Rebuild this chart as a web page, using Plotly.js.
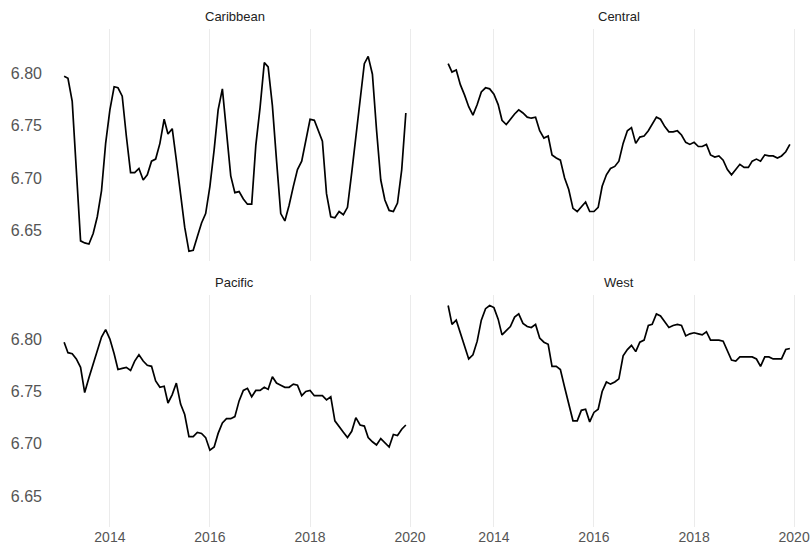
<!DOCTYPE html>
<html>
<head>
<meta charset="utf-8">
<script src="https://cdn.plot.ly/plotly-3.0.1.min.js"></script>
<style>html,body{margin:0;padding:0;background:#fff;}#chart{width:811px;height:548px;}</style>
</head>
<body>
<div id="chart"></div>
<script>
// Monthly observations, Feb 2013 – Dec 2019
const startYear = 2013, startMonth = 2, nMonths = 83;
const months = [];
for (let k = 0; k < nMonths; k++) {
  const m = startMonth - 1 + k;
  const y = startYear + Math.floor(m / 12);
  const mm = (m % 12) + 1;
  months.push(y + '-' + String(mm).padStart(2, '0') + '-01');
}

const regions = ['Caribbean', 'Central', 'Pacific', 'West'];

const caribbean = [
  6.797, 6.795, 6.773, 6.708, 6.640, 6.638, 6.637, 6.647, 6.663, 6.688,
  6.733, 6.765, 6.787, 6.786, 6.778, 6.740, 6.705, 6.705, 6.709, 6.698,
  6.703, 6.716, 6.718, 6.733, 6.756, 6.742, 6.747, 6.717, 6.685, 6.653,
  6.630, 6.631, 6.644, 6.657, 6.666, 6.692, 6.727, 6.765, 6.785, 6.746,
  6.702, 6.686, 6.687, 6.680, 6.675, 6.675, 6.731, 6.767, 6.810, 6.806,
  6.769, 6.717, 6.666, 6.659, 6.674, 6.692, 6.708, 6.716, 6.735, 6.756,
  6.755, 6.746, 6.735, 6.685, 6.663, 6.662, 6.668, 6.665, 6.672, 6.705,
  6.740, 6.778, 6.809, 6.816, 6.799, 6.746, 6.698, 6.679, 6.669, 6.668,
  6.676, 6.708, 6.762
];

const central = [
  6.809, 6.801, 6.803, 6.789, 6.779, 6.768, 6.760, 6.770, 6.782, 6.786,
  6.785, 6.780, 6.770, 6.755, 6.751, 6.756, 6.761, 6.765, 6.762, 6.758,
  6.757, 6.758, 6.745, 6.738, 6.740, 6.722, 6.719, 6.717, 6.700, 6.689,
  6.671, 6.668, 6.672, 6.677, 6.668, 6.668, 6.672, 6.692, 6.703, 6.709,
  6.711, 6.716, 6.733, 6.745, 6.748, 6.733, 6.739, 6.740, 6.745, 6.751,
  6.758, 6.756, 6.749, 6.744, 6.744, 6.745, 6.741, 6.734, 6.732, 6.734,
  6.730, 6.730, 6.732, 6.722, 6.720, 6.721, 6.717, 6.708, 6.703, 6.708,
  6.713, 6.710, 6.710, 6.716, 6.718, 6.716, 6.722, 6.721, 6.721, 6.719,
  6.721, 6.725, 6.732
];

const pacific = [
  6.797, 6.787, 6.786, 6.781, 6.773, 6.749, 6.763, 6.776, 6.790, 6.802,
  6.809, 6.800, 6.786, 6.771, 6.772, 6.773, 6.770, 6.779, 6.785, 6.779,
  6.775, 6.774, 6.760, 6.754, 6.755, 6.739, 6.747, 6.758, 6.738, 6.728,
  6.707, 6.707, 6.711, 6.710, 6.706, 6.694, 6.697, 6.710, 6.720, 6.724,
  6.724, 6.726, 6.741, 6.751, 6.753, 6.745, 6.751, 6.751, 6.754, 6.752,
  6.764, 6.758, 6.756, 6.754, 6.754, 6.757, 6.756, 6.746, 6.750, 6.751,
  6.746, 6.746, 6.746, 6.742, 6.745, 6.722, 6.717, 6.711, 6.706, 6.712,
  6.725, 6.718, 6.717, 6.706, 6.702, 6.699, 6.705, 6.701, 6.697, 6.709,
  6.708, 6.714, 6.718
];

const west = [
  6.832, 6.814, 6.818, 6.805, 6.792, 6.781, 6.785, 6.798, 6.818, 6.829,
  6.832, 6.830, 6.819, 6.804, 6.808, 6.812, 6.821, 6.824, 6.815, 6.812,
  6.811, 6.814, 6.801, 6.797, 6.795, 6.774, 6.774, 6.771, 6.754, 6.738,
  6.722, 6.722, 6.732, 6.733, 6.721, 6.730, 6.733, 6.750, 6.759, 6.757,
  6.759, 6.762, 6.784, 6.790, 6.794, 6.788, 6.797, 6.799, 6.813, 6.814,
  6.824, 6.822, 6.816, 6.811, 6.813, 6.814, 6.813, 6.803, 6.805, 6.806,
  6.805, 6.804, 6.807, 6.799, 6.799, 6.799, 6.798, 6.789, 6.780, 6.779,
  6.783, 6.783, 6.783, 6.783, 6.781, 6.774, 6.783, 6.783, 6.781, 6.781,
  6.781, 6.790, 6.791
];

const yTickVals = [6.65, 6.70, 6.75, 6.80];
const yTickText = ['6.65', '6.70', '6.75', '6.80'];
const xTickVals = ['2014-01-01', '2016-01-01', '2018-01-01', '2020-01-01'];
const xTickText = ['2014', '2016', '2018', '2020'];

const series = [caribbean, central, pacific, west];
const axisIds = [['x', 'y'], ['x2', 'y2'], ['x3', 'y3'], ['x4', 'y4']];

const traces = series.map((vals, k) => ({
  type: 'scatter',
  mode: 'lines',
  x: months,
  y: vals,
  xaxis: axisIds[k][0],
  yaxis: axisIds[k][1],
  line: { color: '#000000', width: 1.7 },
  hoverinfo: 'skip',
  showlegend: false
}));

const FONT = 'Liberation Sans, Arial, sans-serif';
const xRange = ['2012-09-29', '2020-04-04'];
const yRange = [6.6207, 6.8421];
const xDomL = [0, 0.4947], xDomR = [0.5053, 1];
const yDomT = [0.534, 1], yDomB = [0, 0.466];

function xa(domain, anchor, showLabels) {
  return {
    domain: domain, anchor: anchor, type: 'date', range: xRange,
    tickmode: 'array', tickvals: xTickVals, ticktext: xTickText,
    showticklabels: showLabels, ticks: '',
    showgrid: true, gridcolor: '#ebebeb', gridwidth: 1,
    zeroline: false, showline: false,
    tickfont: { family: FONT, size: 14, color: '#555555' }
  };
}
function ya(domain, anchor, showLabels) {
  return {
    domain: domain, anchor: anchor, range: yRange,
    tickmode: 'array', tickvals: yTickVals, ticktext: yTickText,
    showticklabels: showLabels, ticks: '', ticklabelstandoff: 4,
    showgrid: false, zeroline: false, showline: false,
    tickfont: { family: FONT, size: 16, color: '#555555' }
  };
}

const annotations = regions.map((name, k) => ({
  text: name,
  xref: axisIds[k][0] + ' domain',
  yref: axisIds[k][1] + ' domain',
  x: 0.5, y: 1, yanchor: 'bottom', xanchor: 'center', yshift: 3,
  showarrow: false,
  font: { family: FONT, size: 13, color: '#222222' }
}));

const layout = {
  width: 811, height: 548,
  margin: { l: 47, r: 4, t: 29, b: 21, pad: 0 },
  paper_bgcolor: '#ffffff', plot_bgcolor: '#ffffff',
  font: { family: FONT },
  xaxis: xa(xDomL, 'y', false),
  yaxis: ya(yDomT, 'x', true),
  xaxis2: xa(xDomR, 'y2', false),
  yaxis2: ya(yDomT, 'x2', false),
  xaxis3: xa(xDomL, 'y3', true),
  yaxis3: ya(yDomB, 'x3', true),
  xaxis4: xa(xDomR, 'y4', true),
  yaxis4: ya(yDomB, 'x4', false),
  annotations: annotations
};

Plotly.newPlot('chart', traces, layout, { displayModeBar: false, staticPlot: true });
</script>
</body>
</html>
